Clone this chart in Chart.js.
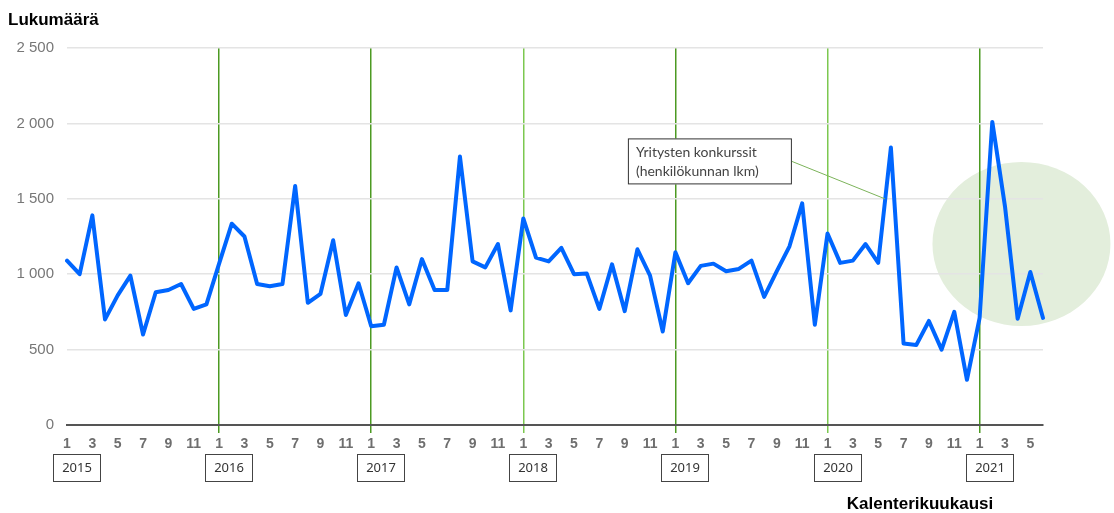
<!DOCTYPE html>
<html>
<head>
<meta charset="utf-8">
<script src="https://cdn.jsdelivr.net/npm/chart.js@4"></script>
<style>
  body { margin: 0; background: #fff; }
  #wrap { width: 1114px; height: 513px; }
</style>
</head>
<body>
<div id="wrap"><canvas id="konkurssit" width="1114" height="513"></canvas></div>
<script>
// Monthly data Jan 2015 - Jun 2021
const years = ["2015", "2016", "2017", "2018", "2019", "2020", "2021"];
const monthsInYear = [12, 12, 12, 12, 12, 12, 6];
const yTicks = [0, 500, 1000, 1500, 2000, 2500];
const values = [
  1090, 1000, 1390, 700, 860, 990, 600, 880, 895, 935, 770, 800,
  1070, 1335, 1250, 935, 920, 935, 1585, 810, 870, 1225, 730, 940,
  655, 665, 1045, 800, 1100, 895, 895, 1780, 1085, 1045, 1200, 760,
  1370, 1110, 1085, 1175, 1000, 1005, 770, 1065, 755, 1165, 990, 620,
  1145, 940, 1055, 1070, 1020, 1035, 1090, 850, 1020, 1185, 1470, 665,
  1270, 1075, 1090, 1200, 1075, 1840, 540, 530, 690, 500, 750, 300,
  710, 2010, 1450, 705, 1015, 710,
];
const yearLineColors = ["rgba(0,0,0,0)", "#4c9a22", "#4c9a22", "#7cc850", "#4c9a22", "#7cc850", "#4c9a22"];
const noteLines = ["Yritysten konkurssit", "(henkilökunnan lkm)"];
const yTitle = "Lukumäärä";
const xTitle = "Kalenterikuukausi";

// month number labels, one per data point
const labels = [];
const yearStarts = [];
years.forEach((y, i) => {
  yearStarts.push(labels.length);
  for (let m = 1; m <= monthsInYear[i]; m++) labels.push(m);
});

function fmt(v) {
  return String(v).replace(/\B(?=(\d{3})+(?!\d))/g, " ");
}

const decor = {
  id: "decor",
  beforeDraw(chart) {
    const { ctx, scales: { x, y } } = chart;
    // highlight circle round the 2021 spike
    ctx.save();
    ctx.fillStyle = "#e3eedc";
    ctx.beginPath();
    ctx.ellipse(x.getPixelForValue(75.3), y.getPixelForValue(1200), 89, 82, 0, 0, Math.PI * 2);
    ctx.fill();
    ctx.restore();
  },
  afterDraw(chart) {
    const { ctx, chartArea, scales: { x, y } } = chart;
    ctx.save();
    // axis titles
    ctx.fillStyle = "#000";
    ctx.font = "bold 17px 'Liberation Sans', Arial, sans-serif";
    ctx.textBaseline = "alphabetic";
    ctx.textAlign = "left";
    ctx.fillText(yTitle, 8, 25);
    ctx.textAlign = "center";
    ctx.fillText(xTitle, 920, 509);

    // year boxes under January ticks
    ctx.font = "13px 'Noto Sans', sans-serif";
    ctx.textBaseline = "middle";
    years.forEach((yr, i) => {
      const px = Math.round(x.getPixelForValue(yearStarts[i]));
      const top = chartArea.bottom + 29;
      ctx.fillStyle = "#fff";
      ctx.fillRect(px - 14, top, 48, 28);
      ctx.strokeStyle = "#444";
      ctx.lineWidth = 1;
      ctx.strokeRect(px - 13.5, top + 0.5, 47, 27);
      ctx.fillStyle = "#333";
      ctx.fillText(yr, px + 10, top + 14);
    });

    // annotation with leader line
    const ex = x.getPixelForValue(65) - 6;
    const ey = y.getPixelForValue(1500);
    const bx = ex - 257, by = y.getPixelForValue(2000) + 15;
    ctx.strokeStyle = "#7cb35a";
    ctx.beginPath();
    ctx.moveTo(bx + 164, by + 23);
    ctx.lineTo(ex, ey);
    ctx.stroke();
    ctx.fillStyle = "#fff";
    ctx.fillRect(bx, by, 164, 46);
    ctx.strokeStyle = "#333";
    ctx.strokeRect(bx + 0.5, by + 0.5, 163, 45);
    ctx.fillStyle = "#444";
    ctx.textAlign = "left";
    ctx.textBaseline = "alphabetic";
    ctx.font = "14px Lato, sans-serif";
    ctx.fillText(noteLines[0], bx + 8, by + 19);
    ctx.fillText(noteLines[1], bx + 8, by + 38);
    ctx.restore();
  },
};

new Chart(document.getElementById("konkurssit"), {
  type: "line",
  data: {
    labels: labels,
    datasets: [
      {
        label: noteLines.join(" "),
        data: values,
        borderColor: "rgb(0, 102, 255)",
        borderWidth: 4,
        borderJoinStyle: "round",
        borderCapStyle: "round",
        pointRadius: 0,
        tension: 0,
        fill: false,
      },
    ],
  },
  options: {
    responsive: false,
    animation: false,
    devicePixelRatio: 1,
    layout: { padding: { left: 7, right: 71, top: 48, bottom: 0 } },
    plugins: { legend: { display: false }, tooltip: { enabled: false } },
    scales: {
      x: {
        type: "category",
        offset: false,
        afterFit: (s) => { s.height = 88; },
        border: { color: "#555", width: 2 },
        grid: {
          drawOnChartArea: true,
          drawTicks: true,
          tickLength: 8,
          lineWidth: 1.5,
          color: (c) => {
            const i = yearStarts.indexOf(c.index);
            return i >= 0 ? yearLineColors[i] : "rgba(0,0,0,0)";
          },
        },
        ticks: {
          autoSkip: false,
          maxRotation: 0,
          padding: 3,
          color: "#6e6e6e",
          font: { family: "'Liberation Sans', Arial, sans-serif", size: 14, weight: "bold" },
          callback: (v, i) => (labels[i] % 2 === 1 ? labels[i] : ""),
        },
      },
      y: {
        min: 0,
        max: 2500,
        afterFit: (s) => { s.width = 60; },
        afterBuildTicks: (s) => { s.ticks = yTicks.map((v) => ({ value: v })); },
        border: { display: false },
        grid: { color: "#e4e4e4", lineWidth: 1.5, drawTicks: false },
        ticks: {
          padding: 13,
          color: "#777",
          font: { family: "'Liberation Sans', Arial, sans-serif", size: 15 },
          callback: (v) => fmt(v),
        },
      },
    },
  },
  plugins: [decor],
});
</script>
</body>
</html>
